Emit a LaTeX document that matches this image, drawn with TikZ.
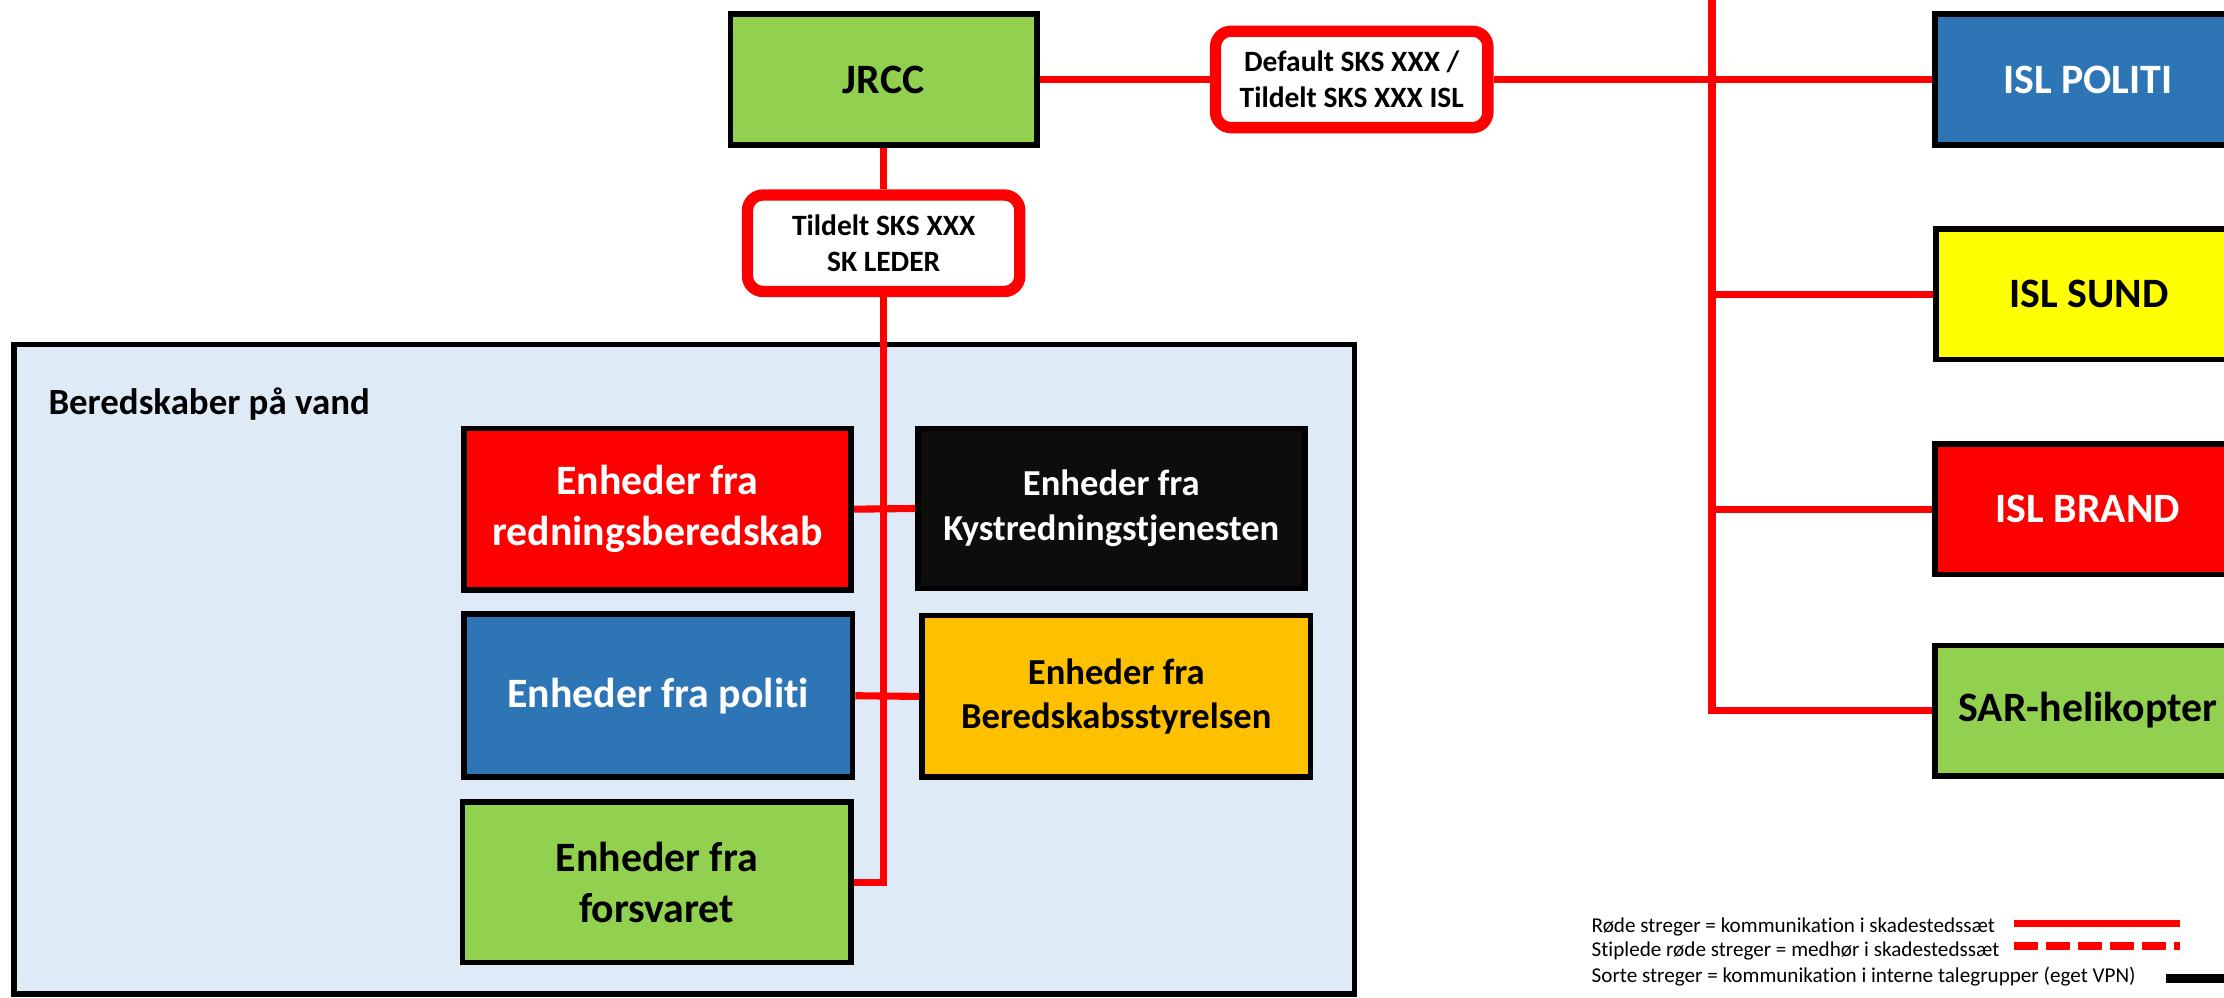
\documentclass[tikz,border=0pt]{standalone}
\usepackage{fontspec}
\setmainfont{Carlito}[Ligatures=NoCommon]
\definecolor{cgreen}{HTML}{92D050}
\definecolor{cblue}{HTML}{2E75B6}
\definecolor{cyellow}{HTML}{FFFF00}
\definecolor{cred}{HTML}{FF0000}
\definecolor{corange}{HTML}{FFC000}
\definecolor{cblack}{HTML}{0D0D0D}
\definecolor{cpanel}{HTML}{DEEBF7}
\tikzset{
  unitbox/.style={draw=black, line width=4pt, inner sep=0pt, align=center,
    font=\bfseries\fontsize{29.5}{36}\selectfont},
  islbox/.style={unitbox, minimum width=216pt, minimum height=92pt},
  bigbox/.style={unitbox, minimum width=274pt, minimum height=114pt},
  midbox/.style={bigbox, font=\bfseries\fontsize{25.8}{31.5}\selectfont},
  tagbox/.style={draw=cred, line width=8pt, rounded corners=11pt, fill=white,
    inner sep=0pt, align=center, minimum width=192pt, minimum height=68pt,
    font=\bfseries\fontsize{20.8}{25.4}\selectfont},
  redline/.style={draw=cred, line width=5pt},
  legtext/.style={anchor=base west, inner sep=0pt, font=\fontsize{14.9}{18}\selectfont},
}
\begin{document}
\begin{tikzpicture}[x=1pt,y=-1pt]
\useasboundingbox (0,0) rectangle (1568,703);
\clip (0,0) rectangle (1568,703);

% panel
\path[draw=black, line width=4pt, fill=cpanel] (10,243) rectangle (955,701);
\node[anchor=base west, inner sep=0pt, font=\bfseries\fontsize{26}{31}\selectfont] (panellabel) at (34,292) {Beredskaber på vand};

% top nodes
\node[islbox, fill=cgreen] (jrcc) at (623,56) {JRCC};
\node[tagbox] (deflt) at (953,56) {Default SKS XXX /\\Tildelt SKS XXX ISL};
\node[tagbox] (tild) at (623,171.5) {Tildelt SKS XXX\\SK LEDER};

% right column
\node[islbox, fill=cblue, text=white] (politi) at (1472,56) {ISL POLITI};
\node[islbox, fill=cyellow] (sund) at (1473,207.5) {ISL SUND};
\node[islbox, fill=cred, text=white] (brand) at (1472,359) {ISL BRAND};
\node[islbox, fill=cgreen] (sar) at (1472,501) {SAR-helikopter};
\coordinate (vtop) at (1207,-10);

% units in panel
\node[bigbox, fill=cred, text=white, minimum width=273pt] (redb) at (463.5,359) {Enheder fra\\redningsberedskab};
\node[midbox, fill=cblack, text=white, minimum width=273pt, minimum height=113pt] (kyst) at (783.5,358.5) {Enheder fra\\Kystredningstjenesten};
\node[bigbox, fill=cblue, text=white, minimum height=115pt] (polb) at (464,490.5) {Enheder fra politi};
\node[midbox, fill=corange] (beredb) at (787,491) {Enheder fra\\Beredskabsstyrelsen};
\node[bigbox, fill=cgreen, minimum height=113pt] (forsv) at (463,622) {Enheder fra\\forsvaret};

% connectors
\draw[redline] (jrcc.east) -- (deflt.west);
\draw[redline] (deflt.east) -- (politi.west);
\draw[redline] (vtop) |- (sar.west);
\draw[redline] (vtop |- sund.west) -- (sund.west);
\draw[redline] (vtop |- brand.west) -- (brand.west);
\draw[redline] (jrcc.south) -- (tild.north);
\draw[redline] (tild.south) |- (forsv.east);
\draw[redline] (redb.east) -- (kyst.west);
\draw[redline] (polb.east) -- (beredb.west);

% legend
\node[legtext] (leg1) at (1122,657.7) {Røde streger = kommunikation i skadestedssæt};
\node[legtext] (leg2) at (1122,674.7) {Stiplede røde streger = medhør i skadestedssæt};
\node[legtext] (leg3) at (1122,693) {Sorte streger = kommunikation i interne talegrupper (eget VPN)};
\coordinate (l1a) at (1420,651); \coordinate (l1b) at (1537,651);
\coordinate (l2a) at (1420,667); \coordinate (l2b) at (1537,667);
\coordinate (l3a) at (1527,690); \coordinate (l3b) at (1580,690);
\draw[draw=cred, line width=5.2pt] (l1a) -- (l1b);
\draw[draw=cred, line width=6pt, dash pattern=on 16.5pt off 6.1pt] (l2a) -- (l2b);
\draw[draw=black, line width=6pt] (l3a) -- (l3b);
\end{tikzpicture}
\end{document}
